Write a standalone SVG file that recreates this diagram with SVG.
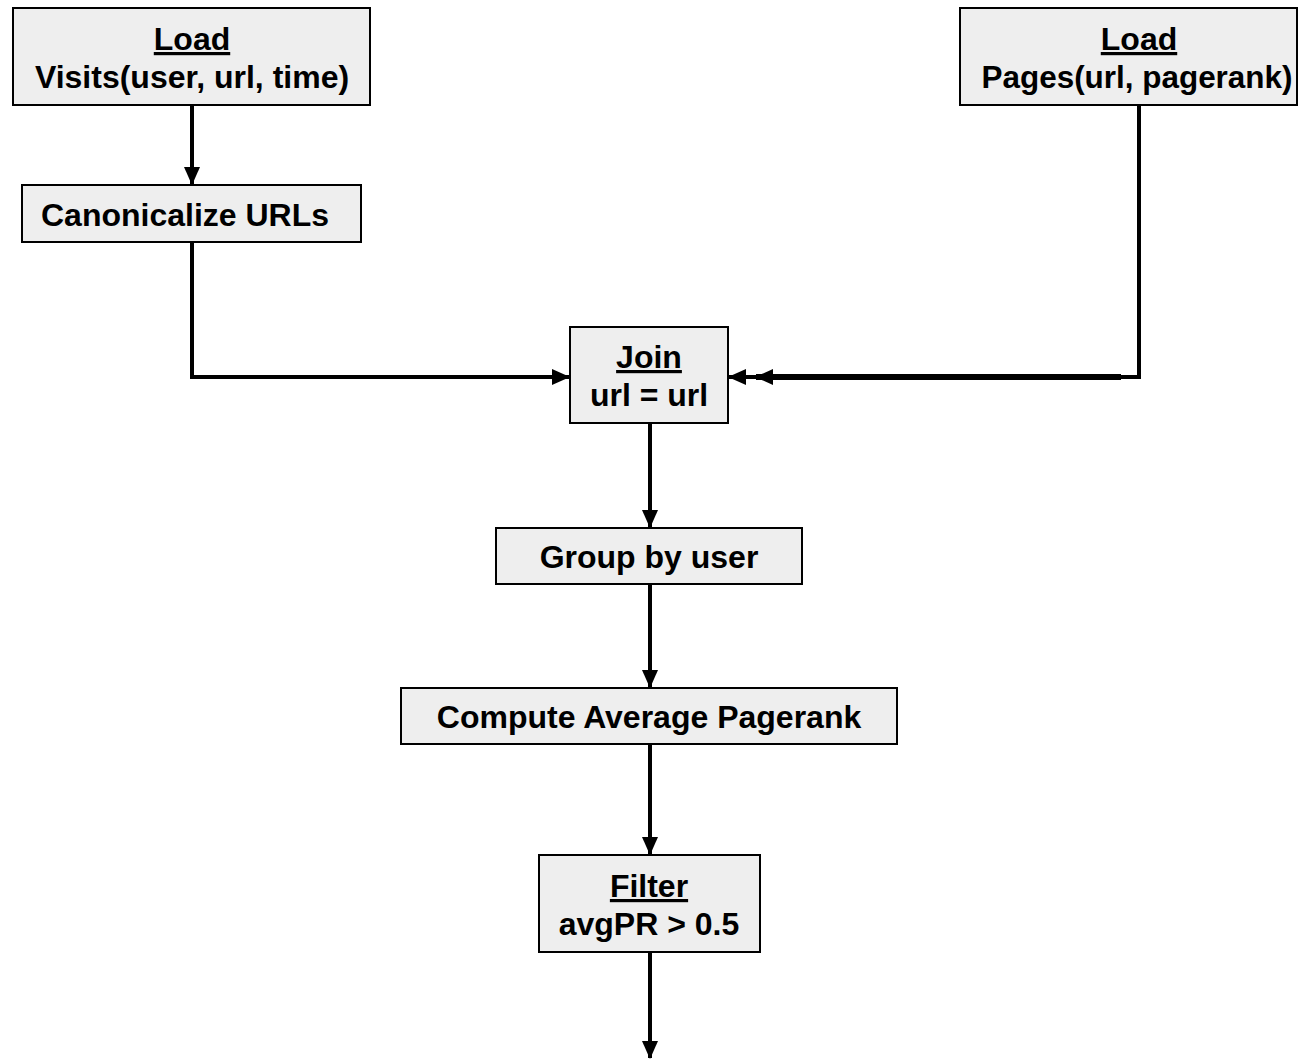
<svg xmlns="http://www.w3.org/2000/svg" width="1302" height="1060" viewBox="0 0 1302 1060">
  <style>
    .box { fill: #eeeeee; stroke: #000000; stroke-width: 2; }
    .lbl { font-family: "Liberation Sans", Arial, sans-serif; font-weight: bold; font-size: 32px; fill: #000000; text-anchor: middle; }
    .u { text-decoration: underline; }
    .edge { fill: none; stroke: #000000; stroke-width: 4; }
    .thick { stroke-width: 6; }
  </style>
  <defs>
    <marker id="head" markerUnits="userSpaceOnUse" markerWidth="18" markerHeight="18" viewBox="0 0 18 18" refX="17" refY="9" orient="auto">
      <path d="M0,1 L18,9 L0,17 Z" fill="#000000"/>
    </marker>
  </defs>

  <g id="connectors">
    <!-- Visits -> Canonicalize -->
    <path class="edge" d="M192,105 V184" marker-end="url(#head)"/>
    <!-- Canonicalize -> Join -->
    <path class="edge" d="M192,243 V377 H569" marker-end="url(#head)"/>
    <!-- Pages -> Join (double head) -->
    <path class="edge" d="M1139,105 V377 H1120"/>
    <path class="edge thick" d="M1121,377 H756" marker-end="url(#head)"/>
    <path class="edge" d="M760,377 H729" marker-end="url(#head)"/>
    <!-- Join -> Group -->
    <path class="edge" d="M650,423 V527" marker-end="url(#head)"/>
    <!-- Group -> Compute -->
    <path class="edge" d="M650,584 V687" marker-end="url(#head)"/>
    <!-- Compute -> Filter -->
    <path class="edge" d="M650,744 V854" marker-end="url(#head)"/>
    <!-- Filter -> output -->
    <path class="edge" d="M650,952 V1058" marker-end="url(#head)"/>
  </g>

  <g id="load-visits">
    <rect class="box" x="13" y="8" width="357" height="97"/>
    <text class="lbl u" x="192" y="50">Load</text>
    <text class="lbl" x="192" y="88">Visits(user, url, time)</text>
  </g>

  <g id="load-pages">
    <rect class="box" x="960" y="8" width="337" height="97"/>
    <text class="lbl u" x="1139" y="50">Load</text>
    <text class="lbl" x="1137" y="88" textLength="311" lengthAdjust="spacingAndGlyphs">Pages(url, pagerank)</text>
  </g>

  <g id="canonicalize">
    <rect class="box" x="22" y="185" width="339" height="57"/>
    <text class="lbl" x="185" y="226">Canonicalize URLs</text>
  </g>

  <g id="join">
    <rect class="box" x="570" y="327" width="158" height="96"/>
    <text class="lbl u" x="649" y="368">Join</text>
    <text class="lbl" x="649" y="406">url = url</text>
  </g>

  <g id="group-by">
    <rect class="box" x="496" y="528" width="306" height="56"/>
    <text class="lbl" x="649" y="568">Group by user</text>
  </g>

  <g id="compute-avg">
    <rect class="box" x="401" y="688" width="496" height="56"/>
    <text class="lbl" x="649" y="728">Compute Average Pagerank</text>
  </g>

  <g id="filter">
    <rect class="box" x="539" y="855" width="221" height="97"/>
    <text class="lbl u" x="649" y="897">Filter</text>
    <text class="lbl" x="649" y="935">avgPR &gt; 0.5</text>
  </g>
</svg>
